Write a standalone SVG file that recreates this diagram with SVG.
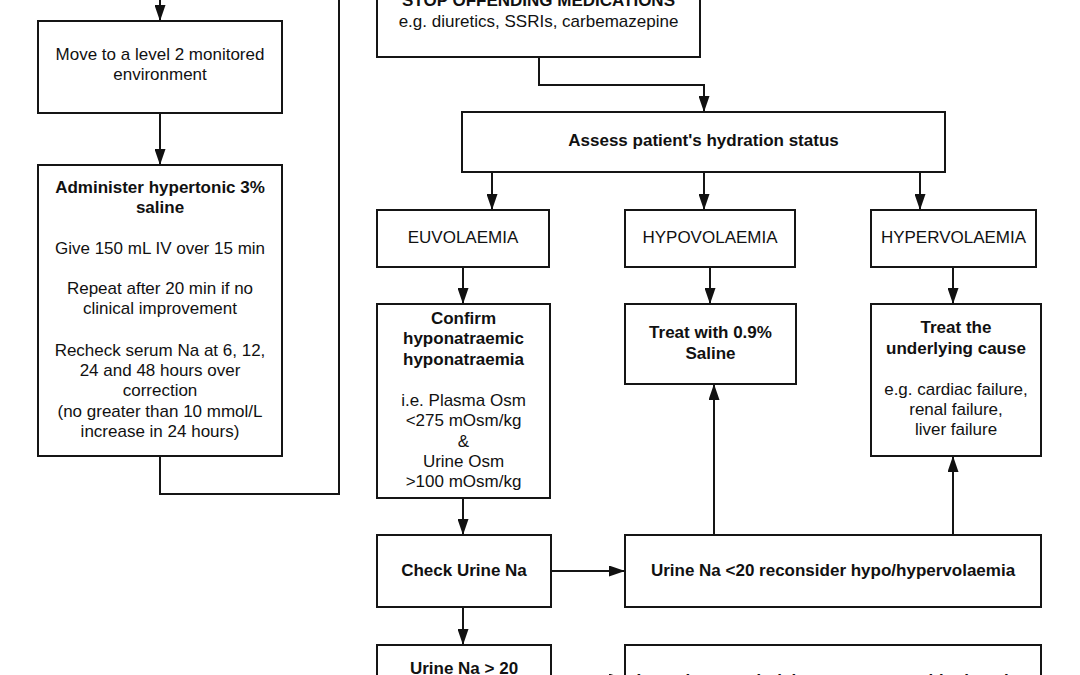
<svg xmlns="http://www.w3.org/2000/svg" width="1080" height="675" viewBox="0 0 1080 675">
<defs>
<style>
.box{fill:#fff;stroke:#151515;stroke-width:2}
.t{font-family:"Liberation Sans",Arial,sans-serif;font-size:17px;fill:#111;text-anchor:middle}
.b{font-weight:bold}
.c{fill:none;stroke:#151515;stroke-width:2}
</style>
<marker id="ah" viewBox="0 0 16 11" refX="16" refY="5.5" markerWidth="16" markerHeight="11" markerUnits="userSpaceOnUse" orient="auto"><path d="M0,0 L16,5.5 L0,11 z" fill="#111"/></marker>
</defs>
<rect width="1080" height="675" fill="#fff"/>
<g id="connectors">
<path class="c" d="M160,-5 V21" marker-end="url(#ah)"/>
<path class="c" d="M160,113 V165" marker-end="url(#ah)"/>
<path class="c" d="M160,456 V494 H339 V-5"/>
<path class="c" d="M539,57 V85 H704 V112" marker-end="url(#ah)"/>
<path class="c" d="M492,172 V210" marker-end="url(#ah)"/>
<path class="c" d="M704,172 V210" marker-end="url(#ah)"/>
<path class="c" d="M920,172 V210" marker-end="url(#ah)"/>
<path class="c" d="M463,267 V304" marker-end="url(#ah)"/>
<path class="c" d="M710,267 V304" marker-end="url(#ah)"/>
<path class="c" d="M953,267 V304" marker-end="url(#ah)"/>
<path class="c" d="M463,498 V535" marker-end="url(#ah)"/>
<path class="c" d="M551,571 H625" marker-end="url(#ah)"/>
<path class="c" d="M714,535 V384" marker-end="url(#ah)"/>
<path class="c" d="M953,535 V456" marker-end="url(#ah)"/>
<path class="c" d="M463,607 V645" marker-end="url(#ah)"/>
<path class="c" d="M551,679 H625" marker-end="url(#ah)"/>
</g>
<g id="n-move"><rect class="box" x="38" y="21" width="244" height="92"/>
<text class="t" x="160" y="60">Move to a level 2 monitored</text>
<text class="t" x="160" y="80">environment</text></g>
<g id="n-admin"><rect class="box" x="38" y="165" width="244" height="291"/>
<text class="t b" x="160" y="193">Administer hypertonic 3%</text>
<text class="t b" x="160" y="213">saline</text>
<text class="t" x="160" y="254">Give 150 mL IV over 15 min</text>
<text class="t" x="160" y="294">Repeat after 20 min if no</text>
<text class="t" x="160" y="314">clinical improvement</text>
<text class="t" x="160" y="356">Recheck serum Na at 6, 12,</text>
<text class="t" x="160" y="376">24 and 48 hours over</text>
<text class="t" x="160" y="396">correction</text>
<text class="t" x="160" y="417">(no greater than 10 mmol/L</text>
<text class="t" x="160" y="437">increase in 24 hours)</text></g>
<g id="n-stop"><rect class="box" x="377" y="-20" width="323" height="77"/>
<text class="t b" x="538.5" y="6">STOP OFFENDING MEDICATIONS</text>
<text class="t" x="538.5" y="27">e.g. diuretics, SSRIs, carbemazepine</text></g>
<g id="n-assess"><rect class="box" x="462" y="112" width="483" height="60"/>
<text class="t b" x="703.5" y="146">Assess patient's hydration status</text></g>
<g id="n-euvo"><rect class="box" x="377" y="210" width="172" height="57"/>
<text class="t" x="463" y="243">EUVOLAEMIA</text></g>
<g id="n-hypo"><rect class="box" x="625" y="210" width="170" height="57"/>
<text class="t" x="710" y="243">HYPOVOLAEMIA</text></g>
<g id="n-hyper"><rect class="box" x="871" y="210" width="165" height="57"/>
<text class="t" x="953.5" y="243">HYPERVOLAEMIA</text></g>
<g id="n-confirm"><rect class="box" x="377" y="304" width="173" height="194"/>
<text class="t b" x="463.5" y="324">Confirm</text>
<text class="t b" x="463.5" y="344">hyponatraemic</text>
<text class="t b" x="463.5" y="365">hyponatraemia</text>
<text class="t" x="463.5" y="406">i.e. Plasma Osm</text>
<text class="t" x="463.5" y="426">&lt;275 mOsm/kg</text>
<text class="t" x="463.5" y="447">&amp;</text>
<text class="t" x="463.5" y="467">Urine Osm</text>
<text class="t" x="463.5" y="487">&gt;100 mOsm/kg</text></g>
<g id="n-treat09"><rect class="box" x="625" y="304" width="171" height="80"/>
<text class="t b" x="710.5" y="338">Treat with 0.9%</text>
<text class="t b" x="710.5" y="359">Saline</text></g>
<g id="n-treatcause"><rect class="box" x="871" y="304" width="170" height="152"/>
<text class="t b" x="956" y="333">Treat the</text>
<text class="t b" x="956" y="354">underlying cause</text>
<text class="t" x="956" y="395">e.g. cardiac failure,</text>
<text class="t" x="956" y="415">renal failure,</text>
<text class="t" x="956" y="435">liver failure</text></g>
<g id="n-check"><rect class="box" x="377" y="535" width="174" height="72"/>
<text class="t b" x="464" y="576">Check Urine Na</text></g>
<g id="n-lt20"><rect class="box" x="625" y="535" width="416" height="72"/>
<text class="t b" x="833" y="576">Urine Na &lt;20 reconsider hypo/hypervolaemia</text></g>
<g id="n-gt20"><rect class="box" x="377" y="645" width="174" height="60"/>
<text class="t b" x="464" y="674">Urine Na &gt; 20</text></g>
<g id="n-invest"><rect class="box" x="625" y="645" width="416" height="60"/>
<text class="t b" x="833" y="686">Investigate underlying causes, consider imaging</text></g>
</svg>
